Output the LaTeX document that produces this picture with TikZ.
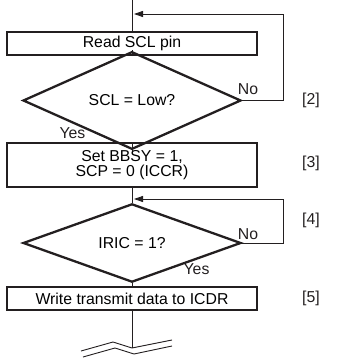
\documentclass[tikz,border=0pt]{standalone}
\usepackage{fontspec}
\setmainfont{Liberation Sans}
\usetikzlibrary{shapes.geometric,arrows.meta}
\definecolor{ink}{HTML}{231F20}
\tikzset{
  procbox/.style={draw=ink, line width=2.3pt, minimum width=250pt, minimum height=23pt, inner sep=0pt, align=center, font=\fontsize{15.8}{14.5}\selectfont},
  decision/.style={draw=ink, diamond, line width=2.3pt, minimum width=218pt, minimum height=53pt, inner sep=0pt, font=\fontsize{15.8}{14.5}\selectfont},
  conn/.style={draw=ink, line width=0.9pt},
  lbl/.style={inner sep=0pt, text=ink, font=\fontsize{15.8}{14.5}\selectfont},
  tip/.style={-{Triangle[length=9pt,width=6pt]}}
}
\begin{document}
\begin{tikzpicture}[x=1pt,y=-1pt]
\useasboundingbox (0,0) rectangle (337,361);
\coordinate (top) at (132,0);
\node[procbox] (b1) at (132,43.5) {Read SCL pin};
\node[decision] (d1) at (132,100.5) {SCL = Low?};
\node[procbox, minimum height=44pt] (b2) at (132,165) {Set BBSY = 1,\\SCP = 0 (ICCR)};
\node[decision] (d2) at (132,243) {IRIC = 1?};
\node[procbox] (b3) at (132,298.5) {Write transmit data to ICDR};
\coordinate (brk) at (132,348);
\coordinate (r1) at (283,14);
\coordinate (j1) at (134,14);
\coordinate (r2) at (283,199);
\coordinate (j2) at (134,199);

\draw[conn] (top) -- (b1.north);
\draw[conn] (b1.south) -- (d1.north);
\draw[conn] (d1.south) -- (b2.north);
\draw[conn] (b2.south) -- (d2.north);
\draw[conn] (d2.south) -- (b3.north);
\draw[conn] (b3.south) -- (brk);
\draw[conn, tip] (d1.east) -| (r1) -- (j1);
\draw[conn, tip] (d2.east) -| (r2) -- (j2);

% break symbol
\draw[conn] (81,351) -- (113,342) -- (132,348) -- (172,340);
\draw[conn] (83,357) -- (115,348) -- (134,354) -- (172,346);

\node[lbl] (no1) at (248,89) {No};
\node[lbl] (yes1) at (72.5,133) {Yes};
\node[lbl] (no2) at (248,234) {No};
\node[lbl] (yes2) at (196.5,269) {Yes};
\node[lbl] (s2) at (311,100) {[2]};
\node[lbl] (s3) at (311,163) {[3]};
\node[lbl] (s4) at (311,220) {[4]};
\node[lbl] (s5) at (311,298) {[5]};
\end{tikzpicture}
\end{document}
